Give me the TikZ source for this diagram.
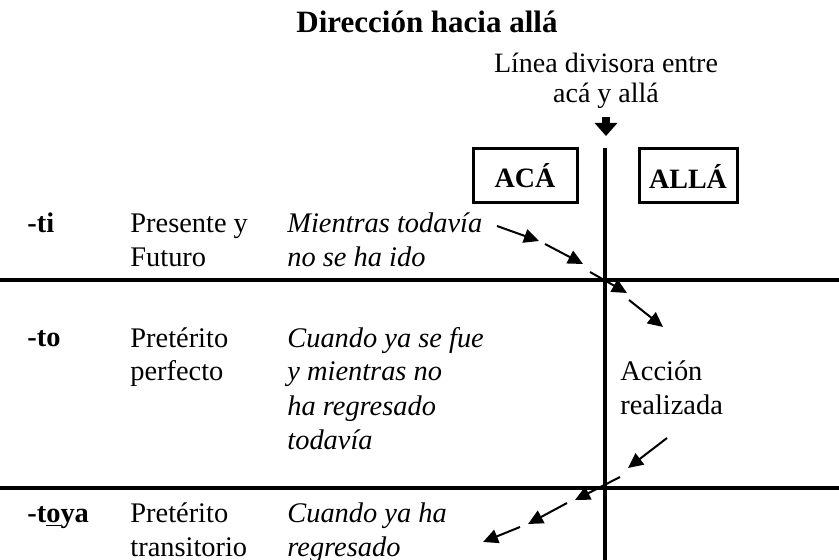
\documentclass[tikz,border=0pt]{standalone}
\usepackage{fontspec}
\setmainfont{Liberation Serif}
\usetikzlibrary{arrows.meta, positioning}
\tikzstyle{txt}=[inner sep=0pt, anchor=base west, align=left, font=\fontsize{14.2}{17}\selectfont]
\tikzstyle{suf}=[txt, font=\fontsize{14.2}{17}\selectfont\bfseries]
\tikzstyle{ej}=[txt, font=\fontsize{14.2}{17}\selectfont\itshape]
\tikzstyle{box}=[draw, line width=1.5pt, minimum height=27pt, font=\fontsize{14}{17}\selectfont\bfseries]
\tikzstyle{rule}=[line width=1.9pt]
\tikzstyle{arr}=[line width=1pt, -{Triangle[length=7.5pt, width=7pt]}]
\tikzstyle{bigarr}=[line width=4pt, -{Triangle[length=6.5pt, width=11pt]}]

\begin{document}
\begin{tikzpicture}[x=0.5pt, y=-0.5pt]
    \useasboundingbox (0,0) rectangle (839,560);

    \node [font=\fontsize{15.5}{18}\selectfont\bfseries, anchor=base, inner sep=0pt](titulo) at (427,33) {Dirección hacia allá};
    \node [txt, anchor=base, align=center, font=\fontsize{14}{15}\selectfont](divisora) at (606,103) {Línea divisora entre\\acá y allá};
    \coordinate (flecha) at (606,136);
    \draw [bigarr, shorten <=4pt] (divisora.south) -- (flecha);

    % tabla
    \coordinate (arriba) at (605,148);
    \coordinate (abajo) at (605,560);
    \draw [rule] (arriba) -- (abajo);
    \draw [rule] (0,280) -- (839,280);
    \draw [rule] (0,488) -- (839,488);

    \node [box, minimum width=52pt](aca) at (525,176) {ACÁ};
    \node [box, minimum width=49pt](alla) at (688,176) {ALLÁ};

    % base = ultima linea
    \node [suf](ti) at (27,233) {-ti};
    \node [txt](presente) at (130,267) {Presente y\\Futuro};
    \node [ej](mientras) at (287,267) {Mientras todavía\\no se ha ido};

    \node [suf](to) at (27,347) {-to};
    \node [txt](perfecto) at (130,381) {Pretérito\\perfecto};
    \node [ej](fue) at (287,449) {Cuando ya se fue\\y mientras no\\ha regresado\\todavía};
    \node [txt](accion) at (620,415) {Acción\\realizada};

    \node [suf](toya) at (27,522) {-t\underline{o}ya};
    \node [txt](transitorio) at (130,556) {Pretérito\\transitorio};
    \node [ej](regresado) at (287,556) {Cuando ya ha\\regresado};

    % ida
    \coordinate (i1) at (497,226); \coordinate (f1) at (539,241);
    \coordinate (i2) at (545,244); \coordinate (f2) at (583,264);
    \coordinate (i3) at (590,272); \coordinate (f3) at (627,293);
    \coordinate (i4) at (629,300); \coordinate (f4) at (663,327);
    % regreso
    \coordinate (j1) at (667,438); \coordinate (g1) at (628,468);
    \coordinate (j2) at (620,477); \coordinate (g2) at (575,500);
    \coordinate (j3) at (567,503); \coordinate (g3) at (528,524);
    \coordinate (j4) at (520,527); \coordinate (g4) at (483,542);
    \foreach \n in {1,...,4} {
        \draw [arr] (i\n) -- (f\n);
        \draw [arr] (j\n) -- (g\n);
    }
\end{tikzpicture}
\end{document}
